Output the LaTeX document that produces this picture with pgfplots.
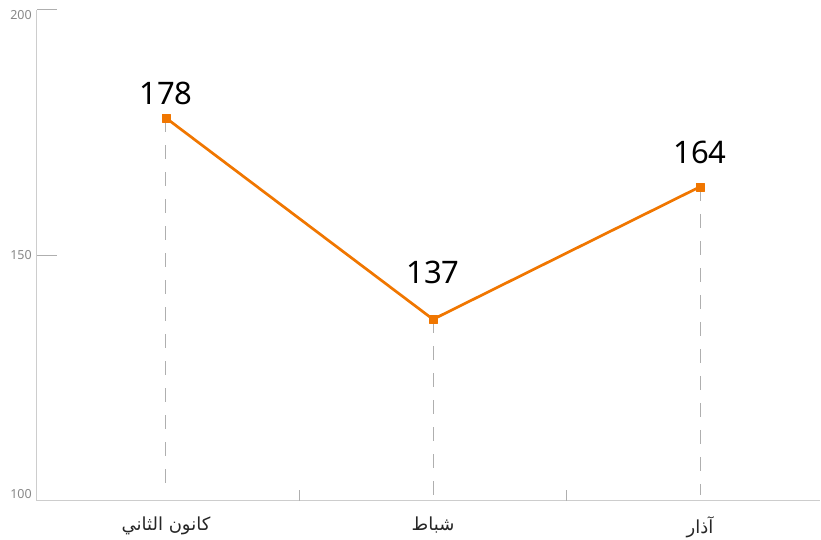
\documentclass[border=0pt]{standalone}
\usepackage{pgfplots}
\pgfplotsset{compat=1.18}
\usepackage{fontspec}
\setmainfont{Noto Sans}
\newfontfamily\arabicfont[Script=Arabic]{DejaVu Sans}
\TeXXeTstate=1
\definecolor{lineor}{RGB}{240,118,0}
\definecolor{axgray}{RGB}{205,205,205}
\definecolor{tickgray}{RGB}{175,175,175}
\definecolor{labgray}{RGB}{136,136,136}
\definecolor{dashgray}{RGB}{175,175,175}
\pgfplotstableread{
x y s
0 178 14
1 137 36
2 164 23
}\datatable
\begin{document}
\begin{tikzpicture}
\useasboundingbox (-37pt,-39pt) rectangle (784pt,501pt);
\begin{axis}[
  at={(0,0)}, anchor=south west,
  scale only axis, width=783pt, height=491pt,
  xmin=-0.483, xmax=2.449, ymin=100, ymax=200,
  axis lines*=left,
  axis line style={axgray, line width=1pt},
  /pgf/number format/assume math mode=true,
  ytick={100,150,200},
  yticklabels={\raisebox{7pt}[\height][\depth]{100},150,\raisebox{-5pt}[\height][\depth]{200}},
  yticklabel style={font=\fontsize{12.5}{14}\selectfont, text=labgray, inner sep=0pt, xshift=-5pt},
  ytick style={tickgray, line width=1pt},
  tick align=inside,
  major tick length=20pt,
  xtick={0,1,2},
  xticklabels={{\beginR كانون الثاني\endR},{\beginR شباط\endR},{\beginR آذار\endR}},
  xticklabel style={font=\arabicfont\fontsize{18}{21}\selectfont, text=black!85, yshift=-12pt},
  xtick style={draw=none},
  extra x ticks={0.5,1.5},
  extra x tick labels={},
  extra x tick style={major tick length=11pt, xtick style={draw=tickgray, line width=1pt}},
]
\addplot[draw=dashgray, line width=1pt, dash pattern=on 14pt off 13pt, mark=none] coordinates {(0,178) (0,101.2)};
\addplot[draw=dashgray, line width=1pt, dash pattern=on 14pt off 13pt, mark=none] coordinates {(1,137) (1,101.2)};
\addplot[draw=dashgray, line width=1pt, dash pattern=on 14pt off 13pt, mark=none] coordinates {(2,164) (2,101.2)};
\addplot[lineor, line width=2.7pt, mark=square*, mark size=4pt, mark options={fill=lineor, draw=lineor, line width=0.5pt, line join=round},
  visualization depends on={\thisrow{s}\as\shiftval},
  nodes near coords,
  every node near coord/.append style={anchor=base, yshift=\shiftval pt, text=black, font=\fontsize{31}{36}\selectfont}]
  table[x=x, y=y] {\datatable};
\end{axis}
\end{tikzpicture}
\end{document}
